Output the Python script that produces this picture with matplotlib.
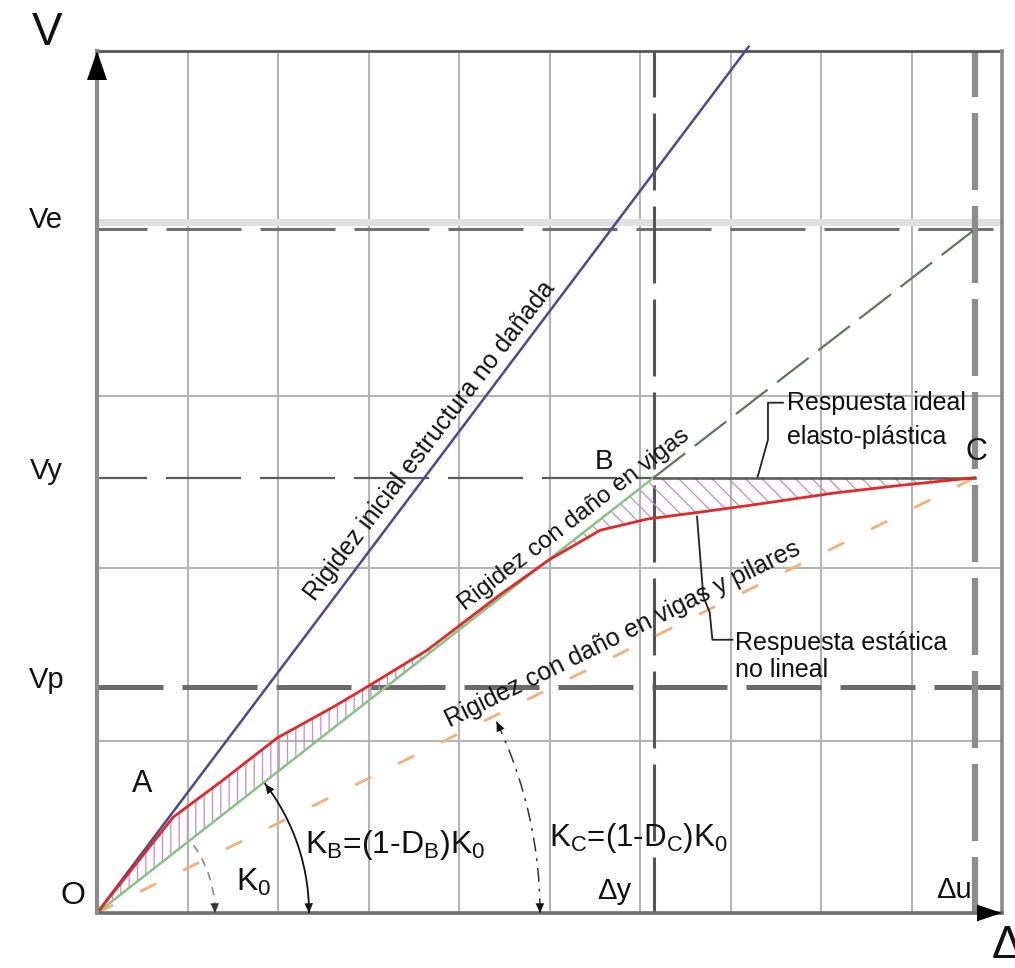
import numpy as np
import matplotlib
matplotlib.use('Agg')
import matplotlib.pyplot as plt

plt.rcParams['font.family'] = ['Liberation Sans', 'DejaVu Sans']
plt.rcParams['mathtext.fontset'] = 'custom'
plt.rcParams['mathtext.rm'] = 'Liberation Sans'
plt.rcParams['mathtext.it'] = 'Liberation Sans'
plt.rcParams['mathtext.default'] = 'regular'
plt.rcParams['lines.scale_dashes'] = False
plt.rcParams['hatch.linewidth'] = 0.9

# ---------------- data (schematic units) ----------------
grid_x = [1, 2, 3, 4, 5, 6, 7, 8, 9]
grid_y = [2, 4, 6]
grid_band_y = 8.02
V_e, V_y, V_p = 7.93, 5.05, 2.62
D_y, D_u = 6.15, 9.70

blue_x = [0, 7.20]
blue_y = [0, 10.05]
green_x = [0, 6.15]
green_y = [0, 5.05]
green_ext_x = [6.15, 9.70]
green_ext_y = [5.05, 7.93]
orange_x = [0, 9.70]
orange_y = [0, 5.05]
plastic_x = [6.15, 9.70]
plastic_y = [5.05, 5.05]
red_x = [0, 0.47, 0.84, 1.39, 1.99, 2.61, 2.98, 3.65, 4.45, 5.00, 5.56,
         6.08, 6.66, 7.22, 8.13, 8.87, 9.70]
red_y = [0, 0.62, 1.11, 1.54, 2.03, 2.39, 2.62, 3.05, 3.69, 4.10, 4.44,
         4.57, 4.65, 4.73, 4.87, 4.96, 5.05]

# leader lines
lead_ideal_x = [7.58, 7.414, 7.414, 7.30]
lead_ideal_y = [5.92, 5.92, 5.49, 5.06]
lead_static_x = [7.02, 6.80, 6.77, 6.70, 6.63]
lead_static_y = [3.17, 3.17, 3.49, 3.67, 4.60]

# ---------------- figure ----------------
W, H = 1015, 968
fig = plt.figure(figsize=(W / 100, H / 100), dpi=100)
ax = fig.add_axes([97 / W, 55 / H, 905 / W, 862 / H])
ax.set_xlim(0, 10)
ax.set_ylim(0, 10)
ax.axis('off')
sx = 905 / 10.0   # px per x unit
sy = 862 / 10.0   # px per y unit
pt = 0.72         # points per pixel

# grid
for gx in grid_x:
    ax.plot([gx, gx], [0, 10], color='#b4b4b4', lw=1.5, zorder=1)
for gy in grid_y:
    ax.plot([0, 10], [gy, gy], color='#b4b4b4', lw=1.5, zorder=1)
ax.plot([0, 10], [grid_band_y, grid_band_y], color='#e0e0e0', lw=5, zorder=1)

# frame
ax.plot([0, 10], [10, 10], color='#555555', lw=2.0, zorder=3, clip_on=False)
ax.plot([10, 10], [0, 10], color='#8a8a8a', lw=2.6, zorder=3, clip_on=False)
ax.plot([0, 10], [0, 0], color='#6e6e6e', lw=2.6, zorder=6, clip_on=False)
ax.plot([0, 0], [0, 10], color='#8c8c8c', lw=3.0, zorder=6, clip_on=False)

# reference dashed lines
dash = (75 * pt, 19 * pt)
l, = ax.plot([0, 10], [V_e, V_e], color='#707070', lw=2.2, zorder=2)
l.set_linestyle((25 * pt, dash))
l, = ax.plot([0, D_y], [V_y, V_y], color='#5a5a5a', lw=1.6, zorder=2)
l.set_linestyle((25 * pt, dash))
l, = ax.plot([0, 10], [V_p, V_p], color='#6a6a6a', lw=3.6, zorder=2)
l.set_linestyle((9 * pt, dash))
l, = ax.plot([D_y, D_y], [10, 0], color='#555555', lw=2.2, zorder=2)
l.set_linestyle((31 * pt, (77 * pt, 16 * pt)))
l, = ax.plot([D_u, D_u], [10, 0], color='#8c8c8c', lw=4.5, zorder=2)
l.set_linestyle((31 * pt, (77 * pt, 16 * pt)))

# hatch regions between nonlinear response and ideal response
xs = np.linspace(0, red_x[-1], 800)
r = np.interp(xs, red_x, red_y)
gslope = green_y[1] / green_x[1]
ref = np.minimum(gslope * xs, V_y)
ax.fill_between(xs, r, ref, where=r >= ref, interpolate=True, facecolor='none',
                edgecolor='#c68ad0', hatch='||', linewidth=0, zorder=3)
ax.fill_between(xs, r, ref, where=r < ref, interpolate=True, facecolor='none',
                edgecolor='#c68ad0', hatch='\\\\', linewidth=0, zorder=3)

# curves
l, = ax.plot(orange_x, orange_y, color='#f4b07a', lw=2.0, zorder=4)
l.set_linestyle((0, (18 * pt, 30 * pt)))
ax.plot(green_x, green_y, color='#86c486', lw=1.8, zorder=4)
l, = ax.plot(green_ext_x, green_ext_y, color='#5f7560', lw=1.6, zorder=4)
l.set_linestyle((0, (40 * pt, 12 * pt)))
ax.plot(blue_x, blue_y, color='#4a4a90', lw=1.8, zorder=5, clip_on=False)
ax.plot(plastic_x, plastic_y, color='#555555', lw=1.8, zorder=5)
ax.plot(red_x, red_y, color='#e02a2a', lw=2.0, zorder=5)

# leader lines
ax.plot(lead_ideal_x, lead_ideal_y, color='#222222', lw=1.3, zorder=6)
ax.plot(lead_static_x, lead_static_y, color='#222222', lw=1.3, zorder=6)


# stiffness arcs (radius in pixels, angle in degrees)
def arc(R, a0, a1, n=60):
    th = np.radians(np.linspace(a0, a1, n))
    return R * np.cos(th) / sx, R * np.sin(th) / sy


def head(xa, ya, i_tip, i_back, color):
    ax.annotate('', xy=(xa[i_tip], ya[i_tip]), xytext=(xa[i_back], ya[i_back]),
                arrowprops=dict(arrowstyle='-|>,head_length=0.5,head_width=0.22',
                                color=color, lw=0, shrinkA=0, shrinkB=0,
                                mutation_scale=14), zorder=7)


ax0, ay0 = arc(118, 35, 0)
l, = ax.plot(ax0, ay0, color='#8a8a8a', lw=1.2, zorder=6)
l.set_linestyle((0, (6, 5)))
head(ax0, ay0, -1, -6, '#333333')

axb, ayb = arc(212, 37.5, 0)
ax.plot(axb, ayb, color='#111111', lw=1.3, zorder=6)
head(axb, ayb, -1, -6, '#111111')
head(axb, ayb, 0, 5, '#111111')

axc, ayc = arc(443, 25.6, 0)
l, = ax.plot(axc, ayc, color='#333333', lw=1.1, zorder=6)
l.set_linestyle((0, (10, 5, 2, 5)))
head(axc, ayc, -1, -4, '#111111')
head(axc, ayc, 0, 3, '#111111')

# axis arrows
ax.annotate('', xy=(0, 10.0), xytext=(0, 9.5),
            arrowprops=dict(arrowstyle='-|>,head_length=0.58,head_width=0.2',
                            color='black', lw=0, shrinkA=0, shrinkB=0,
                            mutation_scale=36), zorder=8, annotation_clip=False)
ax.annotate('', xy=(10.0, 0), xytext=(9.5, 0),
            arrowprops=dict(arrowstyle='-|>,head_length=0.6,head_width=0.2',
                            color='black', lw=0, shrinkA=0, shrinkB=0,
                            mutation_scale=30), zorder=8, annotation_clip=False)

# ---------------- text ----------------
tk = dict(color='#111111', zorder=9)
ax.text(-0.55, 10.21, 'V', fontsize=33, ha='center', va='center', **tk)
ax.text(-0.56, 8.04, 'Ve', fontsize=21, ha='center', va='center', **tk)
ax.text(-0.56, 5.13, 'Vy', fontsize=21, ha='center', va='center', **tk)
ax.text(-0.56, 2.70, 'Vp', fontsize=21, ha='center', va='center', **tk)
ax.text(-0.27, 0.20, 'O', fontsize=23, ha='center', va='center', **tk)
ax.text(0.50, 1.50, 'A', fontsize=22, ha='center', va='center', **tk)
ax.text(5.60, 5.23, 'B', fontsize=20, ha='center', va='center', **tk)
ax.text(9.72, 5.35, 'C', fontsize=22, ha='center', va='center', **tk)
ax.text(5.72, 0.25, 'Δy', fontsize=21, ha='center', va='center', **tk)
ax.text(9.47, 0.27, 'Δu', fontsize=21, ha='center', va='center', **tk)
ax.text(9.89, -0.38, 'Δ', fontsize=33, ha='left', va='center', clip_on=False, **tk)

ax.text(1.73, 0.36, r'K$_{0}$', fontsize=23, ha='center', va='center', **tk)
ax.text(3.29, 0.79, r'K$_{B}$=(1-D$_{B}$)K$_{0}$', fontsize=23,
        ha='center', va='center', **tk)
ax.text(5.98, 0.87, r'K$_{C}$=(1-D$_{C}$)K$_{0}$', fontsize=22.5,
        ha='center', va='center', **tk)

ax.text(7.62, 5.92, 'Respuesta ideal', fontsize=18, ha='left', va='center', **tk)
ax.text(7.62, 5.52, 'elasto-plástica', fontsize=18, ha='left', va='center', **tk)
ax.text(7.05, 3.13, 'Respuesta estática', fontsize=18, ha='left', va='center', **tk)
ax.text(7.05, 2.82, 'no lineal', fontsize=18, ha='left', va='center', **tk)

ax.text(3.68, 5.48, 'Rigidez inicial estructura no dañada', fontsize=18,
        rotation=52.5, ha='center', va='center', rotation_mode='anchor', **tk)
ax.text(5.27, 4.56, 'Rigidez con daño en vigas', fontsize=17.5,
        rotation=37.5, ha='center', va='center', rotation_mode='anchor', **tk)
ax.text(5.81, 3.23, 'Rigidez con daño en vigas y pilares', fontsize=18,
        rotation=26.3, ha='center', va='center', rotation_mode='anchor', **tk)

fig.savefig('out.png', dpi=100)
